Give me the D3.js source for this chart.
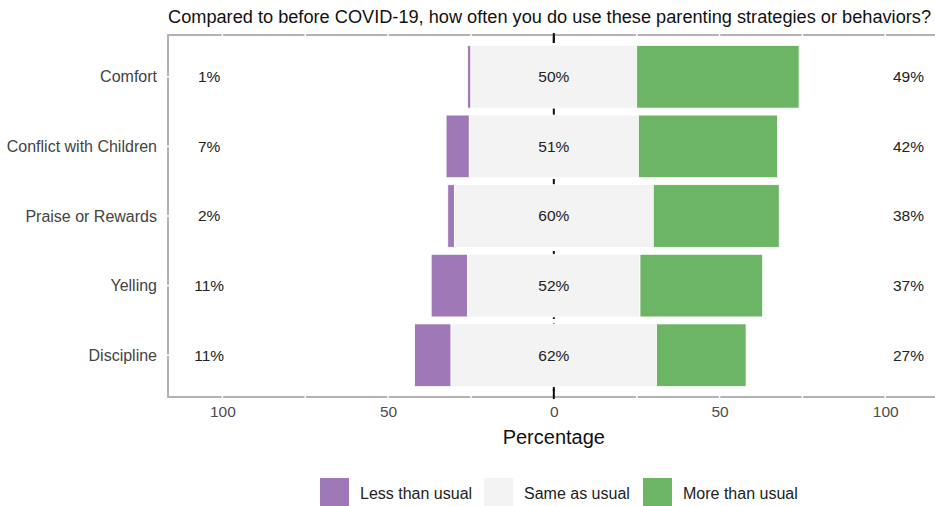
<!DOCTYPE html>
<html><head><meta charset="utf-8">
<script src="https://cdn.jsdelivr.net/npm/d3@7"></script>
<style>body{margin:0;background:#fff;font-family:"Liberation Sans",Arial,sans-serif}</style>
</head><body>
<svg id="c" width="935" height="506"></svg>
<script>
const categories = ["Comfort","Conflict with Children","Praise or Rewards","Yelling","Discipline"];
const lessVals = [1,7,2,11,11];
const sameVals = [50,51,60,52,62];
const moreVals = [49,42,38,37,27];
const xTicks = [-100,-50,0,50,100];
const legendLabels = ["Less than usual","Same as usual","More than usual"];
const colors = ["#9f78b7","#f3f3f3","#6cb565"];
const title = "Compared to before COVID-19, how often you do use these parenting strategies or behaviors?";

const svg = d3.select("#c");
const L = 168, R = 935, T = 35, B = 397;
const x = d3.scaleLinear().domain([-116.4, 115]).range([L, R]);
const step = (B - T) / 5.2;
const yc = c => T + step * (0.6 + categories.indexOf(c));
const bh = step * 0.9;

// title
svg.append("text").attr("x", L).attr("y", 23).attr("font-size", 17.5).attr("fill", "#111")
  .attr("textLength", 763).attr("lengthAdjust", "spacingAndGlyphs").text(title);

// zero dashed line
svg.append("line").attr("x1", x(0)).attr("x2", x(0)).attr("y1", T).attr("y2", B)
  .attr("stroke", "#111").attr("stroke-width", 2).attr("stroke-dasharray", "8,4");

// bars
const data = categories.map((c, i) => ({c, less: lessVals[i], same: sameVals[i], more: moreVals[i]}));
const segs = [];
data.forEach(d => {
  const s0 = -d.same / 2, s1 = d.same / 2;
  segs.push({c: d.c, x0: s0 - d.less, x1: s0, k: 0});
  segs.push({c: d.c, x0: s0, x1: s1, k: 1});
  segs.push({c: d.c, x0: s1, x1: s1 + d.more, k: 2});
});
svg.append("g").selectAll("rect").data(segs).join("rect")
  .attr("x", d => x(d.x0)).attr("width", d => x(d.x1) - x(d.x0))
  .attr("y", d => yc(d.c) - bh / 2).attr("height", bh)
  .attr("fill", d => colors[d.k]).attr("stroke", "#fff").attr("stroke-width", 0.8);

// panel border
const border = svg.append("g").attr("stroke", "#b3b3b3").attr("stroke-width", 2).attr("fill", "none");
border.append("path").attr("d", `M${R},${T}H${L}V${B}H${R}`);
const g25 = [-100,-75,-50,-25,25,50,75,100];
svg.append("g").selectAll("line.v").data(g25).join("line")
  .attr("x1", d => x(d)).attr("x2", d => x(d)).attr("y1", T - 2).attr("y2", T + 2)
  .attr("stroke", "#fff").attr("stroke-width", 1.5);
svg.append("g").selectAll("line.vb").data(g25).join("line")
  .attr("x1", d => x(d)).attr("x2", d => x(d)).attr("y1", B - 2).attr("y2", B + 2)
  .attr("stroke", "#fff").attr("stroke-width", 1.5);
svg.append("g").selectAll("line.h").data(categories).join("line")
  .attr("x1", L - 2).attr("x2", L + 2).attr("y1", d => yc(d)).attr("y2", d => yc(d))
  .attr("stroke", "#fff").attr("stroke-width", 1.5);
svg.append("line").attr("x1", x(0)).attr("x2", x(0)).attr("y1", T - 2).attr("y2", T + 8).attr("stroke", "#111").attr("stroke-width", 2);
svg.append("line").attr("x1", x(0)).attr("x2", x(0)).attr("y1", B - 8).attr("y2", B + 2).attr("stroke", "#111").attr("stroke-width", 2);

// x axis labels
const xa = svg.append("g").attr("transform", `translate(0,${B})`)
  .call(d3.axisBottom(x).tickValues(xTicks).tickFormat(d => Math.abs(d)).tickSize(0).tickPadding(9));
xa.select(".domain").remove();
xa.selectAll("text").attr("font-size", 15.5).attr("fill", "#4d4d4d").attr("font-family", "Liberation Sans, Arial, sans-serif");

// y labels
svg.append("g").selectAll("text").data(categories).join("text")
  .attr("x", 157).attr("y", d => yc(d)).attr("dy", "0.35em").attr("text-anchor", "end")
  .attr("font-size", 16).attr("fill", "#444").text(d => d);

// value labels
const lab = svg.append("g").attr("font-size", 15.5).attr("fill", "#222").attr("text-anchor", "middle");
data.forEach(d => {
  lab.append("text").attr("x", x(-104)).attr("y", yc(d.c)).attr("dy", "0.35em").text(d.less + "%");
  lab.append("text").attr("x", x(0)).attr("y", yc(d.c)).attr("dy", "0.35em").text(d.same + "%");
  lab.append("text").attr("x", x(107)).attr("y", yc(d.c)).attr("dy", "0.35em").text(d.more + "%");
});

// axis title
svg.append("text").attr("x", x(0)).attr("y", 444).attr("text-anchor", "middle").attr("font-size", 20).attr("fill", "#111").text("Percentage");

// legend
const legX = [320, 484, 643];
const lg = svg.append("g");
legendLabels.forEach((t, i) => {
  lg.append("rect").attr("x", legX[i]).attr("y", 478).attr("width", 29).attr("height", 29).attr("fill", colors[i]);
  lg.append("text").attr("x", legX[i] + 40).attr("y", 493).attr("dy", "0.35em").attr("font-size", 16).attr("fill", "#222").text(t);
});
</script>
</body></html>
